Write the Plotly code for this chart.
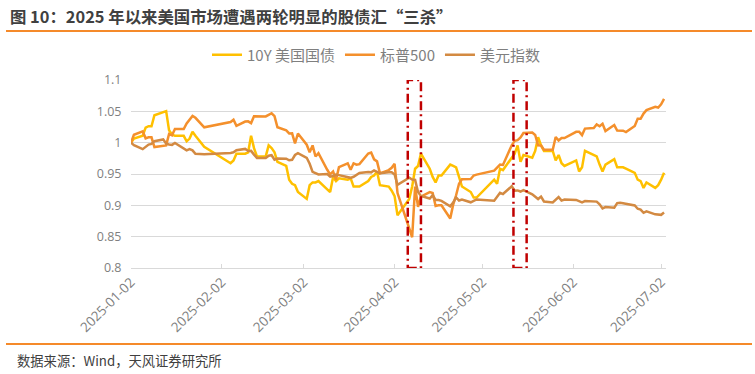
import plotly.graph_objects as go

# ---------------- data ----------------
dates = [
    "2025-01-02", "2025-01-03", "2025-01-06", "2025-01-07", "2025-01-08", "2025-01-09", "2025-01-10",
    "2025-01-13", "2025-01-14", "2025-01-15", "2025-01-16", "2025-01-17", "2025-01-20", "2025-01-21",
    "2025-01-22", "2025-01-23", "2025-01-24", "2025-01-27",
    "2025-02-05", "2025-02-06", "2025-02-07", "2025-02-10", "2025-02-11", "2025-02-12", "2025-02-13",
    "2025-02-14", "2025-02-17", "2025-02-18", "2025-02-19", "2025-02-20", "2025-02-21", "2025-02-24",
    "2025-02-25", "2025-02-26", "2025-02-27", "2025-02-28",
    "2025-03-03", "2025-03-04", "2025-03-05", "2025-03-06", "2025-03-07", "2025-03-10", "2025-03-11",
    "2025-03-12", "2025-03-13", "2025-03-14", "2025-03-17", "2025-03-18", "2025-03-19", "2025-03-20",
    "2025-03-21", "2025-03-24", "2025-03-25", "2025-03-26", "2025-03-27", "2025-03-28", "2025-03-31",
    "2025-04-01", "2025-04-02", "2025-04-03", "2025-04-07", "2025-04-08", "2025-04-09", "2025-04-10",
    "2025-04-11", "2025-04-14", "2025-04-15", "2025-04-16", "2025-04-17", "2025-04-18", "2025-04-21",
    "2025-04-22", "2025-04-23", "2025-04-24", "2025-04-25", "2025-04-28", "2025-04-29", "2025-04-30",
    "2025-05-06", "2025-05-07", "2025-05-08", "2025-05-09", "2025-05-12", "2025-05-13", "2025-05-14",
    "2025-05-15", "2025-05-16", "2025-05-19", "2025-05-20", "2025-05-21", "2025-05-22", "2025-05-23",
    "2025-05-26", "2025-05-27", "2025-05-28", "2025-05-29", "2025-05-30",
    "2025-06-03", "2025-06-04", "2025-06-05", "2025-06-06", "2025-06-09", "2025-06-10", "2025-06-11",
    "2025-06-12", "2025-06-13", "2025-06-16", "2025-06-17", "2025-06-18", "2025-06-19", "2025-06-20",
    "2025-06-23", "2025-06-24", "2025-06-25", "2025-06-26", "2025-06-27", "2025-06-30",
    "2025-07-01", "2025-07-02", "2025-07-03",
]

# 10Y US Treasury yield level (%)
ust10y = [
    4.57, 4.60, 4.62, 4.68, 4.69, 4.69, 4.77, 4.79, 4.80, 4.66, 4.63, 4.62, 4.62, 4.58,
    4.60, 4.65, 4.62, 4.54,
    4.42, 4.44, 4.49, 4.49, 4.50, 4.62, 4.53, 4.47, 4.47, 4.55, 4.53, 4.50, 4.43, 4.40,
    4.30, 4.27, 4.26, 4.21,
    4.16, 4.26, 4.28, 4.28, 4.29, 4.23, 4.21, 4.32, 4.29, 4.31, 4.30, 4.31, 4.25, 4.25,
    4.25, 4.29, 4.32, 4.33, 4.36, 4.26, 4.25,
    4.22, 4.18, 4.04, 4.16, 4.25, 4.38, 4.40, 4.49, 4.38, 4.32, 4.28, 4.33, 4.33, 4.41,
    4.40, 4.39, 4.32, 4.25, 4.21, 4.17, 4.17,
    4.30, 4.27, 4.38, 4.37, 4.46, 4.49, 4.55, 4.43, 4.48, 4.46, 4.51, 4.61, 4.55, 4.51,
    4.51, 4.44, 4.48, 4.42, 4.40,
    4.44, 4.36, 4.39, 4.51, 4.48, 4.47, 4.41, 4.36, 4.41, 4.45, 4.39, 4.39, 4.39, 4.38,
    4.35, 4.30, 4.29, 4.24, 4.28, 4.24,
    4.26, 4.30, 4.35,
]

# S&P 500 close
spx = [
    5868.55, 5942.47, 5975.38, 5909.03, 5918.25, 5918.25, 5827.04, 5836.22, 5842.91, 5949.91,
    5937.34, 5996.66, 5996.66, 6049.24, 6086.37, 6118.71, 6101.24, 6012.28,
    6061.48, 6083.57, 6025.99, 6066.44, 6068.50, 6051.97, 6115.07, 6114.63, 6114.63, 6129.58,
    6144.15, 6117.52, 6013.13, 5983.25, 5955.25, 5956.06, 5861.57, 5954.50,
    5849.72, 5778.15, 5842.63, 5738.52, 5770.20, 5614.56, 5572.07, 5599.30, 5521.52, 5638.94,
    5675.12, 5614.66, 5675.29, 5662.89, 5667.56, 5767.57, 5776.65, 5712.20, 5693.31, 5580.94,
    5611.85,
    5633.07, 5670.97, 5396.52, 5062.25, 4982.77, 5456.90, 5268.05, 5363.36, 5405.97, 5396.63,
    5275.70, 5282.70, 5282.70, 5158.20, 5287.76, 5375.86, 5484.77, 5525.21, 5528.75, 5560.83,
    5569.06,
    5606.91, 5631.28, 5663.94, 5659.91, 5844.19, 5886.55, 5892.58, 5916.93, 5958.38, 5963.60,
    5940.46, 5844.61, 5842.01, 5802.82, 5802.82, 5921.54, 5888.55, 5912.17, 5911.69,
    5970.37, 5970.81, 5939.30, 6000.36, 6005.88, 6038.81, 6022.24, 6045.26, 5976.97, 6033.11,
    5982.72, 5980.87, 5980.87, 5967.84, 6025.17, 6092.18, 6092.16, 6141.02, 6173.07, 6204.95,
    6198.01, 6227.42, 6279.35,
]

# US dollar index
dxy = [
    109.39, 108.95, 108.26, 108.63, 109.05, 109.18, 109.65, 109.96, 109.23, 109.08,
    109.00, 109.35, 108.35, 108.04, 108.25, 108.05, 107.44, 107.37,
    107.60, 107.70, 108.07, 108.30, 107.95, 107.96, 107.30, 106.73, 106.71, 107.10,
    107.20, 106.41, 106.63, 106.59, 106.31, 106.40, 107.24, 107.56,
    106.75, 105.70, 104.29, 104.10, 103.84, 103.90, 103.46, 103.58, 103.83, 103.72,
    103.38, 103.25, 103.44, 103.84, 104.09, 104.26, 104.21, 104.56, 104.33, 104.04,
    104.21,
    104.24, 103.85, 102.04, 103.26, 102.96, 102.89, 100.78, 100.10, 99.64, 100.22,
    99.38, 99.38, 99.23, 98.28, 98.93, 99.85, 99.29, 99.47, 98.98, 99.22,
    99.47,
    99.24, 99.89, 100.64, 100.42, 101.79, 101.01, 101.05, 100.86, 101.09, 100.38,
    100.00, 99.55, 99.97, 99.12, 98.94, 99.51, 99.89, 99.28, 99.45,
    99.40, 99.20, 98.95, 99.19, 99.03, 99.10, 98.64, 97.92, 98.15, 98.05,
    98.85, 98.91, 98.82, 98.71, 98.42, 97.86, 97.70, 97.15, 97.40, 96.88,
    96.78, 96.79, 97.18,
]

series_names = ["10Y 美国国债", "标普500", "美元指数"]

tick_dates = ["2025-01-02", "2025-02-02", "2025-03-02", "2025-04-02",
              "2025-05-02", "2025-06-02", "2025-07-02"]
y_ticks = [0.8, 0.85, 0.9, 0.95, 1.0, 1.05, 1.1]
y_tick_text = ["0.8", "0.85", "0.9", "0.95", "1", "1.05", "1.1"]

# "triple kill" windows (highlight boxes)
windows = [("2025-04-06 12:00", "2025-04-11 00:00"),
           ("2025-05-12 14:00", "2025-05-17 02:00")]

title_text = "图 10：2025 年以来美国市场遭遇两轮明显的股债汇“三杀”"
source_text = "数据来源：Wind，天风证券研究所"

# ---------------- figure ----------------
colors = ["#FFC000", "#F4902C", "#D38A42"]
FONT = "Noto Sans CJK SC, Noto Sans, sans-serif"

fig = go.Figure()
for name, vals, col in zip(series_names, [ust10y, spx, dxy], colors):
    base = vals[0]
    fig.add_trace(go.Scatter(
        x=dates, y=[v / base for v in vals], mode="lines", name=name,
        line=dict(color=col, width=2.5), hoverinfo="skip",
    ))

W, H = 755, 374
L, R, T, B = 131, 89, 80, 106
pw, ph = W - L - R, H - T - B


def px_x(px):
    return (px - L) / pw


def px_y(py):
    return (H - B - py) / ph


shapes = []
for x0, x1 in windows:
    shapes.append(dict(type="rect", xref="x", yref="y", x0=x0, x1=x1, y0=0.8, y1=1.1,
                       line=dict(color="#C00000", width=2.5, dash="9px,4px,2px,4px"),
                       fillcolor="rgba(0,0,0,0)", layer="above"))
# orange separator lines
for py in (31, 344):
    shapes.append(dict(type="line", xref="paper", yref="paper",
                       x0=px_x(6), x1=px_x(752), y0=px_y(py), y1=px_y(py),
                       line=dict(color="#F58A2A", width=2)))

annotations = [
    dict(text="<b>" + title_text + "</b>", xref="paper", yref="paper",
         x=px_x(8), y=px_y(16), xanchor="left", yanchor="middle", showarrow=False,
         font=dict(family=FONT, size=16.4, color="#404040")),
    dict(text=source_text, xref="paper", yref="paper",
         x=px_x(15), y=px_y(360), xanchor="left", yanchor="middle", showarrow=False,
         font=dict(family=FONT, size=13.3, color="#404040")),
]

fig.update_layout(
    width=W, height=H,
    margin=dict(l=L, r=R, t=T, b=B, pad=0),
    paper_bgcolor="white", plot_bgcolor="white",
    font=dict(family=FONT, size=12, color="#595959"),
    showlegend=True,
    legend=dict(orientation="h", x=px_x(376), y=px_y(55), xanchor="center", yanchor="middle",
                font=dict(family=FONT, size=15, color="#7F7F7F"),
                bgcolor="rgba(0,0,0,0)", itemwidth=30, tracegroupgap=0),
    shapes=shapes,
    annotations=annotations,
    xaxis=dict(type="date", range=["2025-01-02", "2025-07-03 16:00"],
               tickvals=tick_dates, ticktext=tick_dates, tickangle=-45,
               showgrid=False, zeroline=False,
               showline=True, linecolor="#D9D9D9", linewidth=1,
               ticks="inside", ticklen=4, tickcolor="#D9D9D9",
               tickfont=dict(family="Open Sans, Noto Sans, sans-serif", size=13.5,
                             color="#7F7F7F")),
    yaxis=dict(range=[0.8, 1.1], tickvals=y_ticks, ticktext=y_tick_text,
               showgrid=True, gridcolor="#D9D9D9", gridwidth=1, zeroline=False,
               showline=False, ticks="outside", ticklen=6, tickcolor="rgba(0,0,0,0)",
               tickfont=dict(family="Open Sans, Noto Sans, sans-serif", size=12.5,
                             color="#7F7F7F")),
)

fig.write_html("out.html", config={"displayModeBar": False},
               post_script="document.body.style.margin='0';")
